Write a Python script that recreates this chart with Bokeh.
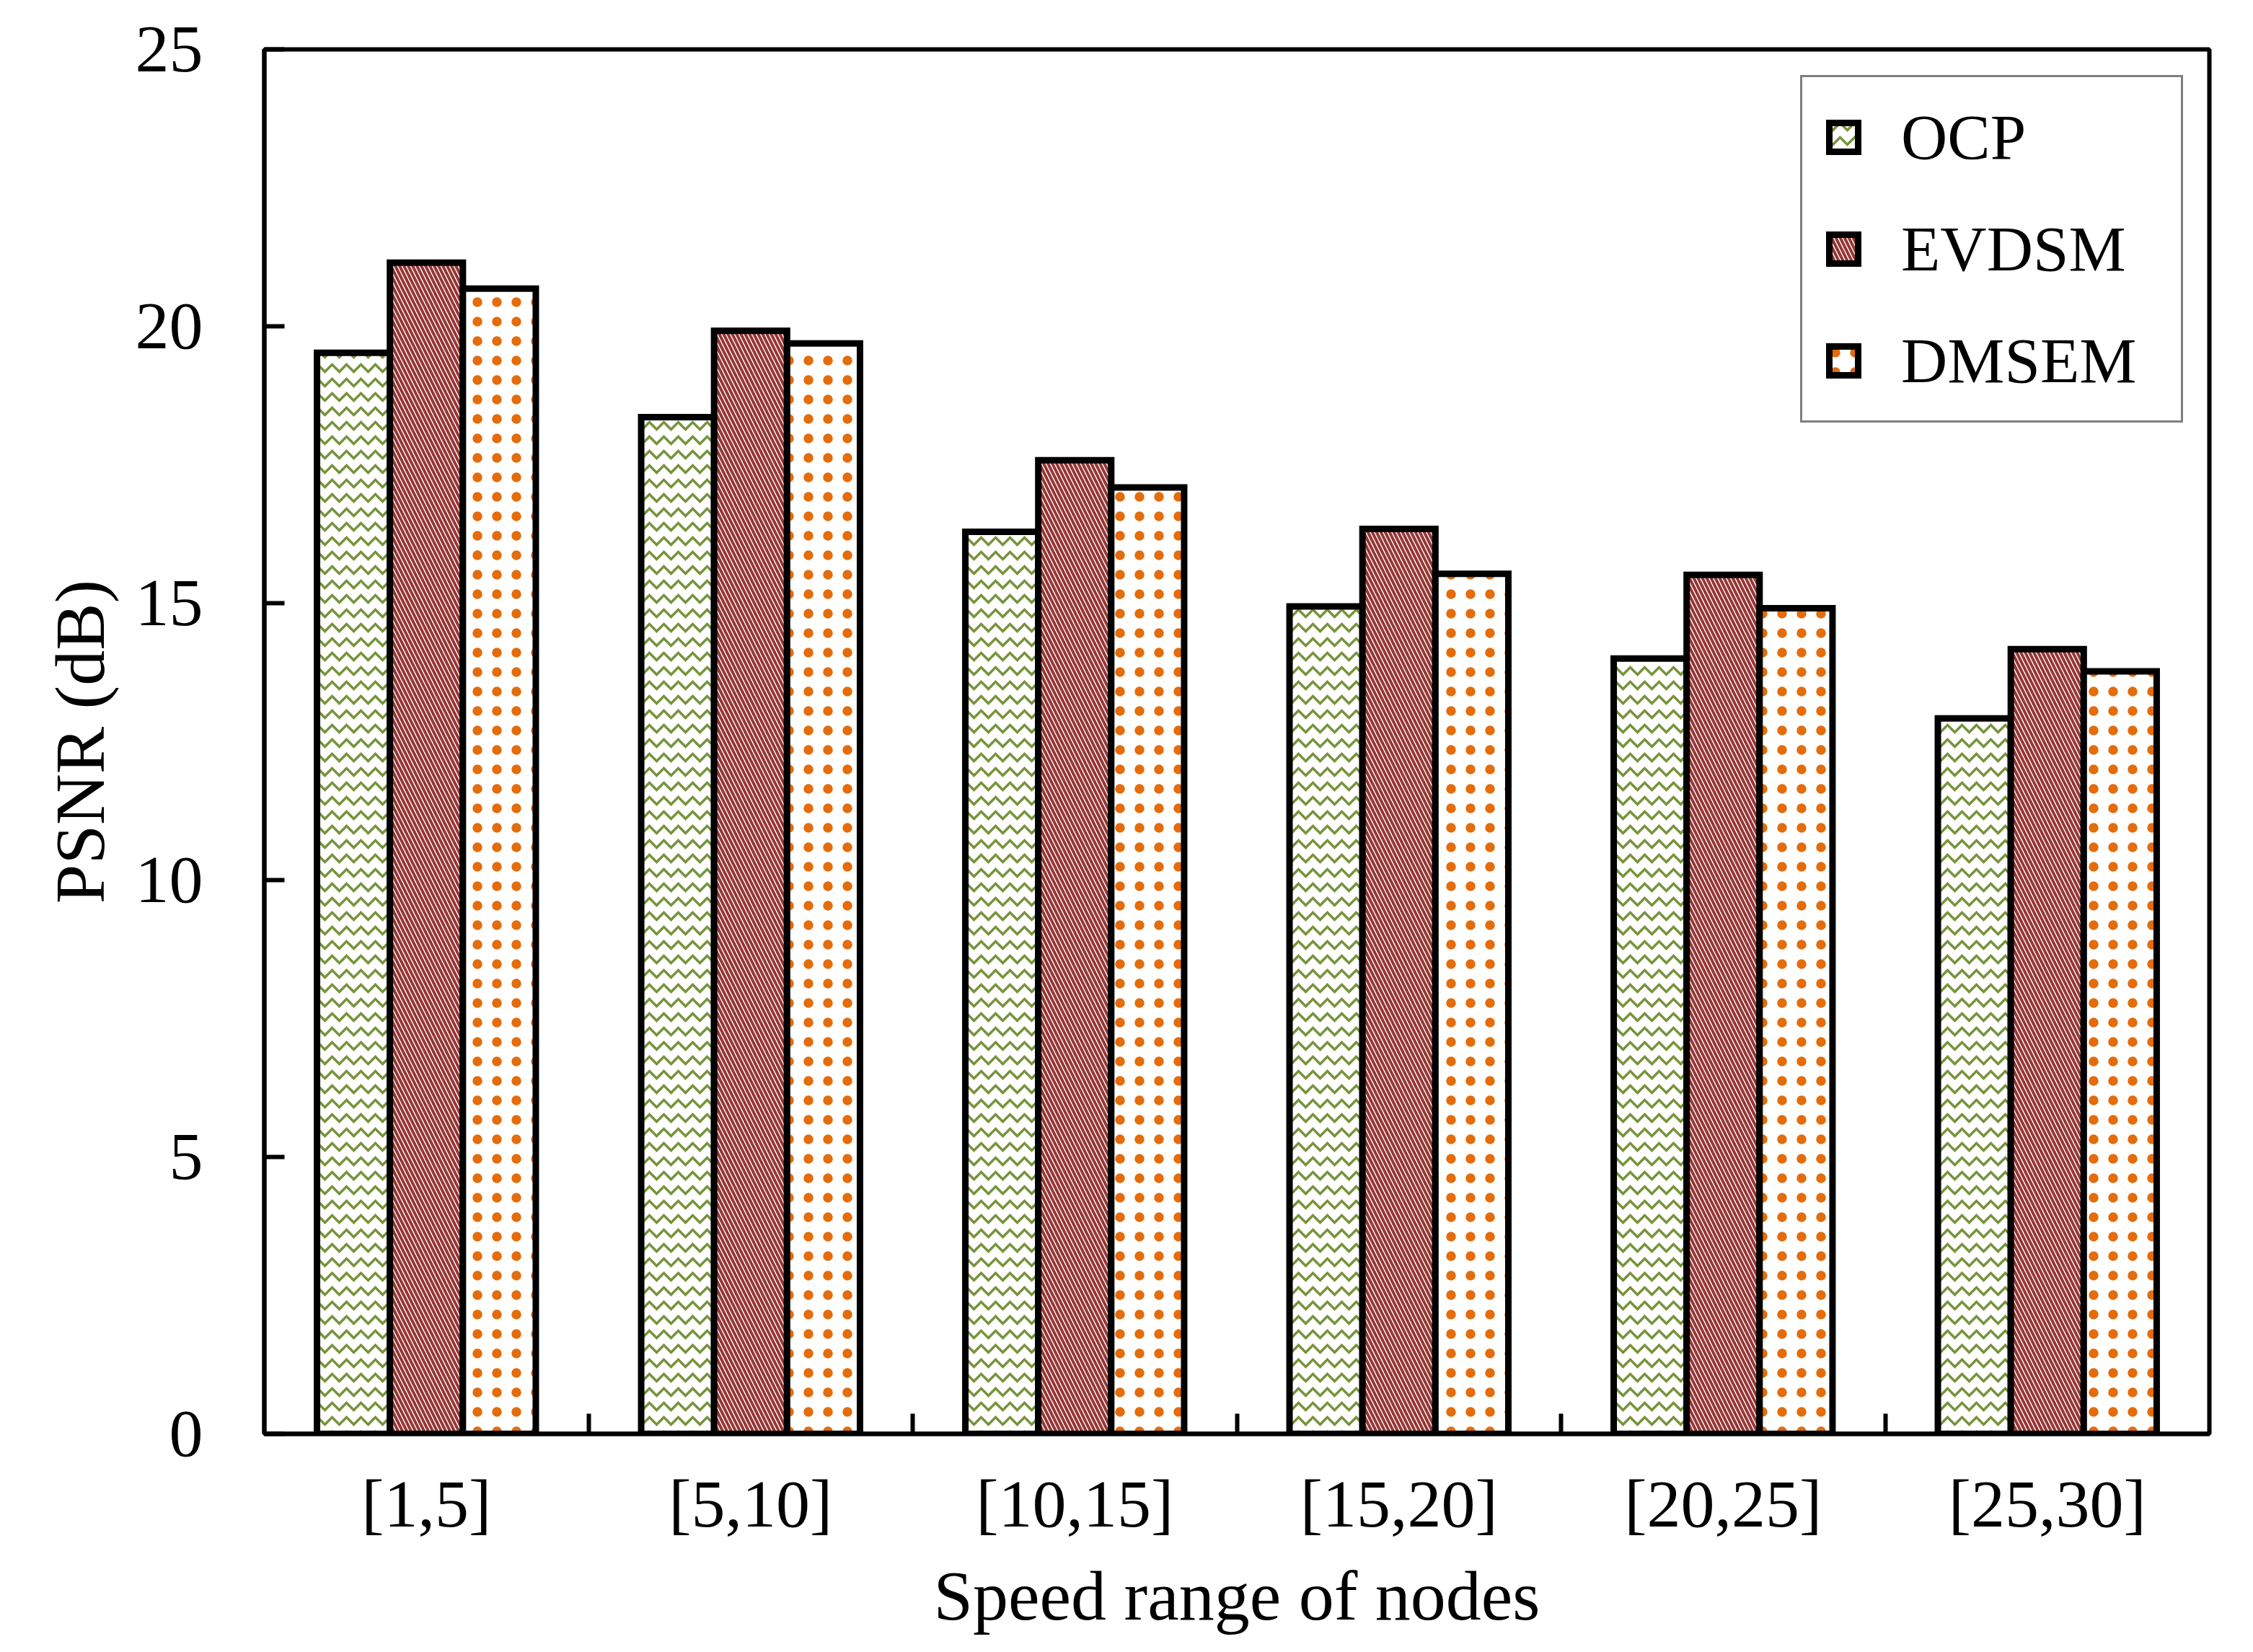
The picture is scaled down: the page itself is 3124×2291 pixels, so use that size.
import numpy as np
from bokeh.plotting import figure
from bokeh.models import ColumnDataSource, FixedTicker, Legend, LegendItem, Range1d
from bokeh.embed import file_html
from bokeh.resources import INLINE

# ---- data ----
categories = ["[1,5]", "[5,10]", "[10,15]", "[15,20]", "[20,25]", "[25,30]"]
series_names = ["OCP", "EVDSM", "DMSEM"]
ocp = [19.52, 18.36, 16.29, 14.94, 14.00, 12.92]
evdsm = [21.15, 19.92, 17.58, 16.34, 15.51, 14.17]
dmsem = [20.68, 19.69, 17.09, 15.53, 14.91, 13.77]
y_ticks = [0, 5, 10, 15, 20, 25]

FONT = "Liberation Serif"
GREEN, RED, ORANGE = "#77933C", "#953735", "#E46C0A"

W, H = 3110, 2285
left, top, fw, fh = 366, 68, 2697, 1920

p = figure(width=W, height=H, output_backend="svg", toolbar_location=None,
           x_range=Range1d(0, len(categories)), y_range=Range1d(0, 25),
           min_border_left=left, min_border_top=top,
           min_border_right=W - left - fw, min_border_bottom=H - top - fh)
p.grid.visible = False
p.background_fill_color = "white"
p.border_fill_color = "white"
p.outline_line_color = "black"
p.outline_line_width = 6

centers = np.arange(len(categories)) + 0.5
bw = 0.225
offsets = [-bw, 0.0, bw]
values = [ocp, evdsm, dmsem]
styles = [
    dict(hatch_pattern="horizontal_wave", hatch_color=GREEN, hatch_scale=20, hatch_weight=3.5),
    dict(hatch_pattern="left_diagonal_line", hatch_color=RED, hatch_scale=12, hatch_weight=4),
    dict(hatch_pattern="dot", hatch_color=ORANGE, hatch_scale=27, hatch_weight=5),
]
renderers = []
for name, vals, off, st in zip(series_names, values, offsets, styles):
    src = ColumnDataSource(dict(x=centers + off, top=vals))
    r = p.vbar(x="x", top="top", width=bw, bottom=0, source=src,
               fill_color="white", line_color="black", line_width=9,
               line_join="miter", **st)
    renderers.append(r)

# x axis: labels at category centres, ticks at category boundaries
xa = p.xaxis[0]
xa.ticker = FixedTicker(ticks=list(centers), minor_ticks=list(range(1, len(categories))))
xa.major_label_overrides = {float(c): lab for c, lab in zip(centers, categories)}
xa.major_tick_in = 0
xa.major_tick_out = 0
xa.minor_tick_in = 28
xa.minor_tick_out = 0
xa.minor_tick_line_width = 6
xa.minor_tick_line_color = "black"
xa.axis_line_width = 6
xa.axis_line_color = "black"
xa.major_label_text_font = FONT
xa.major_label_text_font_size = "94px"
xa.major_label_text_color = "black"
xa.major_label_standoff = 44
xa.axis_label = "Speed range of nodes"
xa.axis_label_text_font = FONT
xa.axis_label_text_font_size = "98px"
xa.axis_label_text_font_style = "normal"
xa.axis_label_text_color = "black"
xa.axis_label_standoff = 19

ya = p.yaxis[0]
ya.ticker = FixedTicker(ticks=y_ticks)
ya.major_tick_in = 28
ya.major_tick_out = 0
ya.major_tick_line_width = 6
ya.major_tick_line_color = "black"
ya.minor_tick_in = 0
ya.minor_tick_out = 0
ya.axis_line_width = 6
ya.axis_line_color = "black"
ya.major_label_text_font = FONT
ya.major_label_text_font_size = "94px"
ya.major_label_text_color = "black"
ya.major_label_standoff = 85
ya.axis_label = "PSNR (dB)"
ya.axis_label_text_font = FONT
ya.axis_label_text_font_size = "98px"
ya.axis_label_text_font_style = "normal"
ya.axis_label_text_color = "black"
ya.axis_label_standoff = 20

legend = Legend(items=[LegendItem(label=n, renderers=[r]) for n, r in zip(series_names, renderers)],
                location="top_right")
legend.margin = 36
legend.padding = 32
legend.spacing = 53
legend.glyph_width = 50
legend.glyph_height = 50
legend.label_width = 356
legend.label_standoff = 55
legend.label_text_font = FONT
legend.label_text_font_size = "89px"
legend.label_text_color = "black"
legend.border_line_color = "black"
legend.border_line_width = 3
legend.background_fill_color = "white"
legend.background_fill_alpha = 1.0
p.add_layout(legend)

open("out.html", "w").write(file_html(p, INLINE))
